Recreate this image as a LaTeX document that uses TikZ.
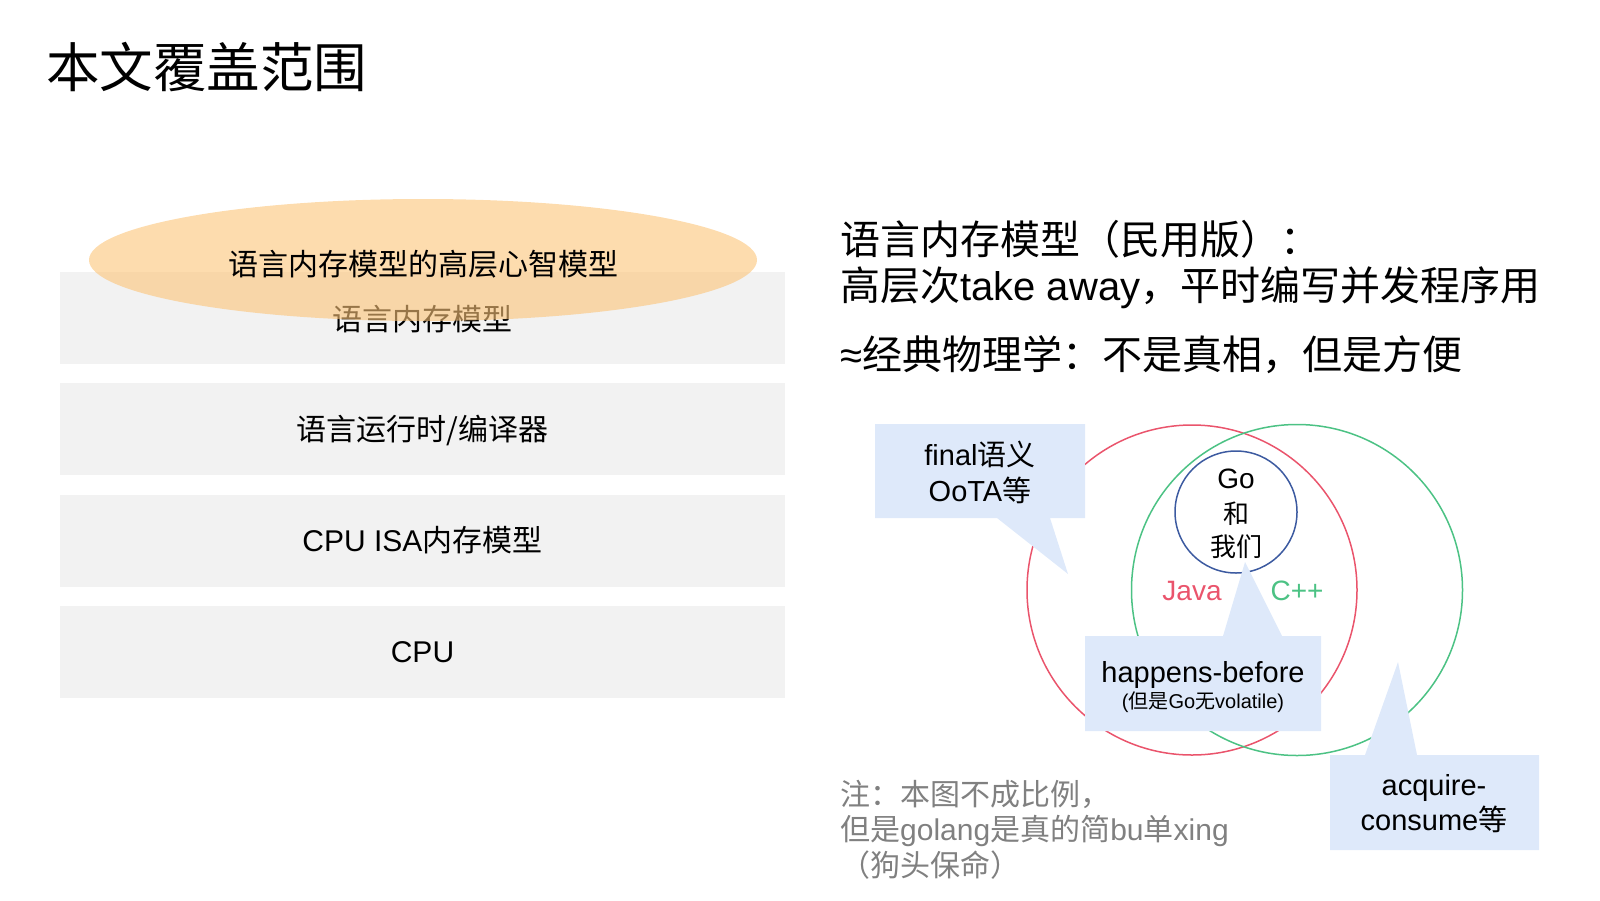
\documentclass[tikz,border=0pt]{standalone}
\usepackage{fontspec}
\setmainfont{Liberation Sans}
\newfontfamily\cjk{Noto Sans CJK SC}
\usetikzlibrary{shapes.geometric}
\definecolor{boxgray}{RGB}{242,242,242}
\definecolor{ellorange}{RGB}{252,196,120}
\definecolor{callblue}{RGB}{222,233,250}
\definecolor{vred}{RGB}{234,84,108}
\definecolor{vgreen}{RGB}{76,194,132}
\definecolor{vblue}{RGB}{60,90,160}
\definecolor{notegray}{RGB}{128,128,128}
\newcommand{\fs}[1]{\fontsize{#1}{#1}\selectfont}
\newcommand{\lat}{\rmfamily}
\begin{document}
\begin{tikzpicture}[x=1pt,y=-1pt,
  layerbox/.style={fill=boxgray, minimum width=725pt, minimum height=92pt, inner sep=0pt},
  txt/.style={inner sep=0pt, anchor=base},
  txtw/.style={inner sep=0pt, anchor=base west},
  vcircle/.style={circle, draw=#1, line width=1.5pt, inner sep=0pt},
  callout/.style={fill=callblue}
]
\useasboundingbox (0,0) rectangle (1600,900);
% title
\node[txtw, font=\cjk\fs{53.5}] (title) at (46,87) {本文覆盖范围};
% layers
\node[layerbox] (l1) at (422.5,318) {};
\node[layerbox] (l2) at (422.5,429) {};
\node[layerbox] (l3) at (422.5,541) {};
\node[layerbox] (l4) at (422.5,652) {};
\node[txt, font=\cjk\fs{30}] (t1) at (422.5,330) {语言内存模型};
\node[txt, font=\cjk\fs{30}] (t2) at (422.5,440) {语言运行时/编译器};
\node[txt, font=\fs{30}] (t3) at (422.5,551) {CPU ISA{\cjk 内存模型}};
\node[txt, font=\fs{30}] (t4) at (422.5,662) {CPU};
\node[ellipse, fill=ellorange, fill opacity=0.6, minimum width=668pt, minimum height=122pt, inner sep=0pt] (ell) at (423,260) {};
\node[txt, font=\cjk\fs{30}] (et) at (423,275) {语言内存模型的高层心智模型};
% right text
\node[txtw, font=\cjk\fs{40}] (r1) at (840,254) {语言内存模型（民用版）：};
\node[txtw, font=\cjk\fs{40}] (r2) at (840,300) {高层次{\lat take away}，平时编写并发程序用};
\node[txtw, font=\cjk\fs{40}] (r3) at (840,369) {{\lat ≈}经典物理学：不是真相，但是方便};
% note
\node[txtw, font=\cjk\fs{30}, text=notegray] (n1) at (840,805) {注：本图不成比例，};
\node[txtw, font=\cjk\fs{30}, text=notegray] (n2) at (840,840) {但是{\lat golang}是真的简{\lat bu}单{\lat xing}};
\node[txtw, font=\cjk\fs{30}, text=notegray] (n3) at (840,876) {（狗头保命）};
% venn
\node[vcircle=vred, minimum size=330pt] (cjava) at (1192,590) {};
\node[vcircle=vgreen, minimum size=331pt] (ccpp) at (1297,590) {};
\node[vcircle=vblue, minimum size=122pt] (cgo) at (1236,512) {};
% callouts
\fill[callout] (875,424) -- (1085,424) -- (1085,518) -- (1050,518) -- (1068,574) -- (997,518) -- (875,518) -- cycle;
\fill[callout] (1085,636) -- (1223,636) -- (1245,562) -- (1282,636) -- (1321,636) -- (1321,731) -- (1085,731) -- cycle;
\fill[callout] (1330,755) -- (1365,755) -- (1398,662) -- (1417,755) -- (1539,755) -- (1539,850) -- (1330,850) -- cycle;
% venn texts
\node[txt, font=\fs{28}] (go1) at (1236,488) {Go};
\node[txt, font=\cjk\fs{26}] (go2) at (1236,523) {和};
\node[txt, font=\cjk\fs{26}] (go3) at (1236,556) {我们};
\node[txt, font=\fs{28}, text=vred] (java) at (1192,600) {Java};
\node[txt, font=\fs{28}, text=vgreen] (cpp) at (1297,600) {C++};
% callout texts
\node[txt, font=\fs{29}] (f1) at (980,465) {final{\cjk 语义}};
\node[txt, font=\fs{29}] (f2) at (980,501) {OoTA{\cjk 等}};
\node[txt, font=\fs{29}] (h1) at (1203,682) {happens-before};
\node[txt, font=\fs{20}] (h2) at (1203,708) {({\cjk 但是}Go{\cjk 无}volatile)};
\node[txt, font=\fs{29}] (a1) at (1434,795) {acquire-};
\node[txt, font=\fs{29}] (a2) at (1434,830) {consume{\cjk 等}};
\end{tikzpicture}
\end{document}
